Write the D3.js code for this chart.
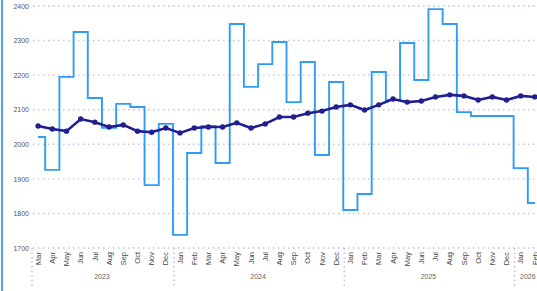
<!DOCTYPE html>
<html>
<head>
<meta charset="utf-8">
<script src="https://cdn.jsdelivr.net/npm/d3@7"></script>
<style>
  body { margin: 0; background: #fff; }
  svg { display: block; font-family: "Liberation Sans", Arial, sans-serif; }
</style>
</head>
<body>
<div id="chart"></div>
<script>
// month labels, grouped by year
let years = ["2023", "2024", "2025", "2026"];
let monthsByYear = [
    ["Mar", "Apr", "May", "Jun", "Jul", "Aug", "Sep", "Oct", "Nov", "Dec"],
    ["Jan", "Feb", "Mar", "Apr", "May", "Jun", "Jul", "Aug", "Sep", "Oct", "Nov", "Dec"],
    ["Jan", "Feb", "Mar", "Apr", "May", "Jun", "Jul", "Aug", "Sep", "Oct", "Nov", "Dec"],
    ["Jan", "Feb"]
];
// monthly actuals (step line)
let monthly = [2021, 1926, 2195, 2325, 2134, 2048, 2117, 2108, 1882, 2059,
               1738, 1975, 2053, 1946, 2348, 2166, 2232, 2296, 2122, 2238, 1969, 2180,
               1810, 1856, 2209, 2128, 2293, 2186, 2391, 2348, 2093, 2082, 2082, 2082,
               1931, 1830];
// rolling average (dark line with markers)
let average = [2053, 2044, 2038, 2073, 2064, 2050, 2056, 2038, 2035, 2047,
               2033, 2047, 2050, 2050, 2062, 2047, 2059, 2079, 2079, 2090, 2096, 2108,
               2114, 2099, 2114, 2131, 2122, 2125, 2137, 2143, 2140, 2128, 2137, 2128,
               2140, 2137];
let yTicks = [1700, 1800, 1900, 2000, 2100, 2200, 2300, 2400];

let width = 537, height = 291;

// flatten months into keys
let keys = [];
let yearOf = [];
monthsByYear.forEach(function(ms, yi) {
    ms.forEach(function(m) { keys.push(years[yi] + "-" + m); yearOf.push(yi); });
});

let svg = d3.select("#chart").append("svg")
    .attr("width", width)
    .attr("height", height);

let x = d3.scaleBand().domain(keys).range([31, 542]).padding(0);
let y = d3.scaleLinear().domain([1700, 2400]).range([248, 6]);
let cx = function(i) { return x(keys[i]) + x.bandwidth() / 2; };

// left border
svg.append("line")
    .attr("x1", 2).attr("x2", 2)
    .attr("y1", 0).attr("y2", height)
    .attr("stroke", "#4ea6ea")
    .attr("stroke-width", 2);

// gridlines
svg.append("g")
    .selectAll("line")
    .data(yTicks)
    .join("line")
    .attr("x1", 33).attr("x2", width)
    .attr("y1", d => y(d)).attr("y2", d => y(d))
    .attr("stroke", "#c2c2e4")
    .attr("stroke-width", 1.4)
    .attr("stroke-dasharray", "1.5,3.5");

// y axis labels
let yAxis = svg.append("g")
    .attr("transform", "translate(29,0)")
    .call(d3.axisLeft(y).tickValues(yTicks).tickSize(0).tickPadding(0).tickFormat(d3.format("d")));
yAxis.select(".domain").remove();
yAxis.selectAll("text")
    .attr("fill", "#555")
    .style("font-size", "7px");

// x axis month labels (rotated)
let xAxis = svg.append("g")
    .attr("transform", "translate(0,250)")
    .call(d3.axisBottom(x).tickSize(0).tickFormat(d => d.split("-")[1]));
xAxis.select(".domain").remove();
xAxis.selectAll("text")
    .attr("transform", "rotate(-90)")
    .attr("x", -2)
    .attr("y", 0)
    .attr("dy", "0.35em")
    .attr("text-anchor", "end")
    .attr("fill", "#444")
    .style("font-size", "7.5px");

// year separators and labels
let yearStart = years.map((yr, yi) => x(keys[yearOf.indexOf(yi)]));
let yearEnd = years.map((yr, yi) => x(keys[yearOf.lastIndexOf(yi)]) + x.bandwidth());
svg.append("g")
    .selectAll("line")
    .data(yearStart)
    .join("line")
    .attr("x1", d => d + 1).attr("x2", d => d + 1)
    .attr("y1", 248).attr("y2", 288)
    .attr("stroke", "#b8b8e2")
    .attr("stroke-width", 1.3)
    .attr("stroke-dasharray", "1.5,3");
svg.append("g")
    .selectAll("text")
    .data(years)
    .join("text")
    .attr("x", (d, i) => (yearStart[i] + yearEnd[i]) / 2)
    .attr("y", 279)
    .attr("text-anchor", "middle")
    .attr("fill", "#666")
    .style("font-size", "7px")
    .text(d => d);

// step line
let stepLine = d3.line()
    .x((d, i) => cx(i))
    .y(d => y(d))
    .curve(d3.curveStep);
svg.append("path")
    .datum(monthly)
    .attr("fill", "none")
    .attr("stroke", "#2f9df3")
    .attr("stroke-width", 1.9)
    .attr("d", stepLine);

// average line
let avgLine = d3.line()
    .x((d, i) => cx(i))
    .y(d => y(d));
svg.append("path")
    .datum(average)
    .attr("fill", "none")
    .attr("stroke", "#1f1f8f")
    .attr("stroke-width", 2.6)
    .attr("d", avgLine);
svg.append("g")
    .selectAll("circle")
    .data(average)
    .join("circle")
    .attr("cx", (d, i) => cx(i))
    .attr("cy", d => y(d))
    .attr("r", 2.7)
    .attr("fill", "#1f1f8f");
</script>
</body>
</html>
